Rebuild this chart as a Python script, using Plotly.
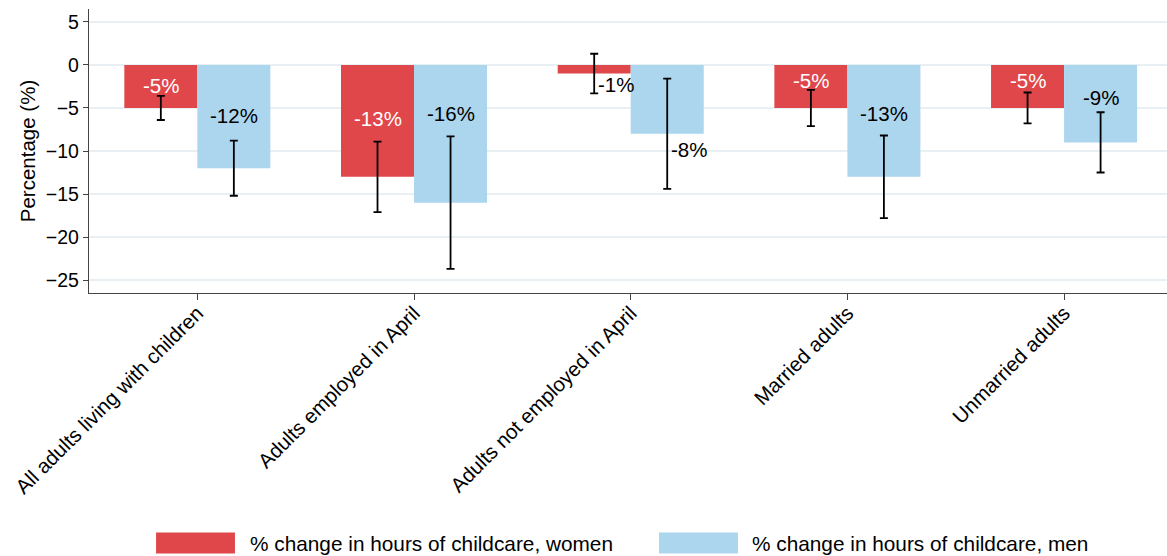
import plotly.graph_objects as go

# Groups of adults and the estimated % change in hours of childcare
categories = [
    "All adults living with children",
    "Adults employed in April",
    "Adults not employed in April",
    "Married adults",
    "Unmarried adults",
]
women_change = [-5, -13, -1, -5, -5]
women_ci_high = [-3.6, -8.9, 1.3, -2.9, -3.2]
women_ci_low = [-6.4, -17.1, -3.3, -7.1, -6.8]

men_change = [-12, -16, -8, -13, -9]
men_ci_high = [-8.8, -8.3, -1.6, -8.2, -5.5]
men_ci_low = [-15.2, -23.7, -14.4, -17.8, -12.5]

series_names = [
    "% change in hours of childcare, women",
    "% change in hours of childcare, men",
]

# Where each value label sits (y in axis units, horizontal anchoring)
women_label_y = [-2.44, -6.2, -2.3, -1.75, -1.75]
men_label_y = [-5.9, -5.7, -9.8, -5.6, -3.76]
women_label_side = ["c", "c", "r", "c", "c"]
men_label_side = ["c", "c", "r", "c", "c"]

RED = "#E0474A"
BLUE = "#ACD5EE"
FONT = "Liberation Sans, Arial, Helvetica, sans-serif"

BARGAP = 0.326
half_bar = (1 - BARGAP) / 4  # offset from category centre to each bar centre

x_idx = list(range(len(categories)))

fig = go.Figure()


def add_series(values, hi, lo, color, name):
    fig.add_trace(
        go.Bar(
            x=x_idx,
            y=values,
            name=name,
            marker=dict(color=color, line=dict(width=0)),
            showlegend=False,
            error_y=dict(
                type="data",
                symmetric=False,
                array=[h - v for h, v in zip(hi, values)],
                arrayminus=[v - l for v, l in zip(values, lo)],
                color="black",
                thickness=1.8,
                width=4,
            ),
        )
    )


add_series(women_change, women_ci_high, women_ci_low, RED, series_names[0])
add_series(men_change, men_ci_high, men_ci_low, BLUE, series_names[1])

annotations = []


def add_labels(values, label_y, sides, offset, inside_color):
    for i, (v, ly, side) in enumerate(zip(values, label_y, sides)):
        inside = side == "c"
        annotations.append(
            dict(
                x=i + offset,
                y=ly,
                xref="x",
                yref="y",
                text=f"{v:.0f}%",
                showarrow=False,
                xanchor="center" if inside else "left",
                yanchor="middle",
                xshift=0 if inside else 2,
                font=dict(family=FONT, size=20.5,
                          color=inside_color if inside else "black"),
            )
        )


add_labels(women_change, women_label_y, women_label_side, -half_bar, "white")
add_labels(men_change, men_label_y, men_label_side, half_bar, "black")

# Legend drawn as wide swatches under the chart
shapes = []
legend_items = [
    (RED, series_names[0], 0.0622, 0.1354, 0.1475),
    (BLUE, series_names[1], 0.5288, 0.6020, 0.6132),
]
for color, name, x0, x1, xt in legend_items:
    shapes.append(
        dict(type="rect", xref="paper", yref="paper",
             x0=x0, x1=x1, y0=-0.9175, y1=-0.8435,
             fillcolor=color, line=dict(width=0))
    )
    annotations.append(
        dict(x=xt, y=-0.882, xref="paper", yref="paper", text=name,
             showarrow=False, xanchor="left", yanchor="middle",
             font=dict(family=FONT, size=20.8, color="black"))
    )

fig.update_layout(
    width=1167,
    height=556,
    margin=dict(l=89, r=0, t=9, b=263),
    paper_bgcolor="white",
    plot_bgcolor="white",
    barmode="group",
    bargap=BARGAP,
    bargroupgap=0,
    font=dict(family=FONT, color="black"),
    annotations=annotations,
    shapes=shapes,
    xaxis=dict(
        tickmode="array",
        tickvals=x_idx,
        ticktext=categories,
        range=[-0.5, 4.475],
        tickangle=-45,
        tickfont=dict(family=FONT, size=20.5, color="black"),
        ticklabelstandoff=-7,
        showline=True,
        linecolor="#444",
        linewidth=1.3,
        ticks="outside",
        ticklen=6,
        tickcolor="#444",
        showgrid=False,
        zeroline=False,
    ),
    yaxis=dict(
        range=[-26.5, 6.5],
        tickvals=[-25, -20, -15, -10, -5, 0, 5],
        tickfont=dict(family=FONT, size=19.5, color="black"),
        title=dict(text="Percentage (%)",
                   font=dict(family=FONT, size=20.5, color="black"),
                   standoff=4),
        showline=True,
        linecolor="#444",
        linewidth=1.3,
        ticks="outside",
        ticklen=5,
        tickcolor="#444",
        showgrid=True,
        gridcolor="#E9F0F4",
        gridwidth=1.5,
        zeroline=False,
    ),
)

fig.write_html("out.html")
